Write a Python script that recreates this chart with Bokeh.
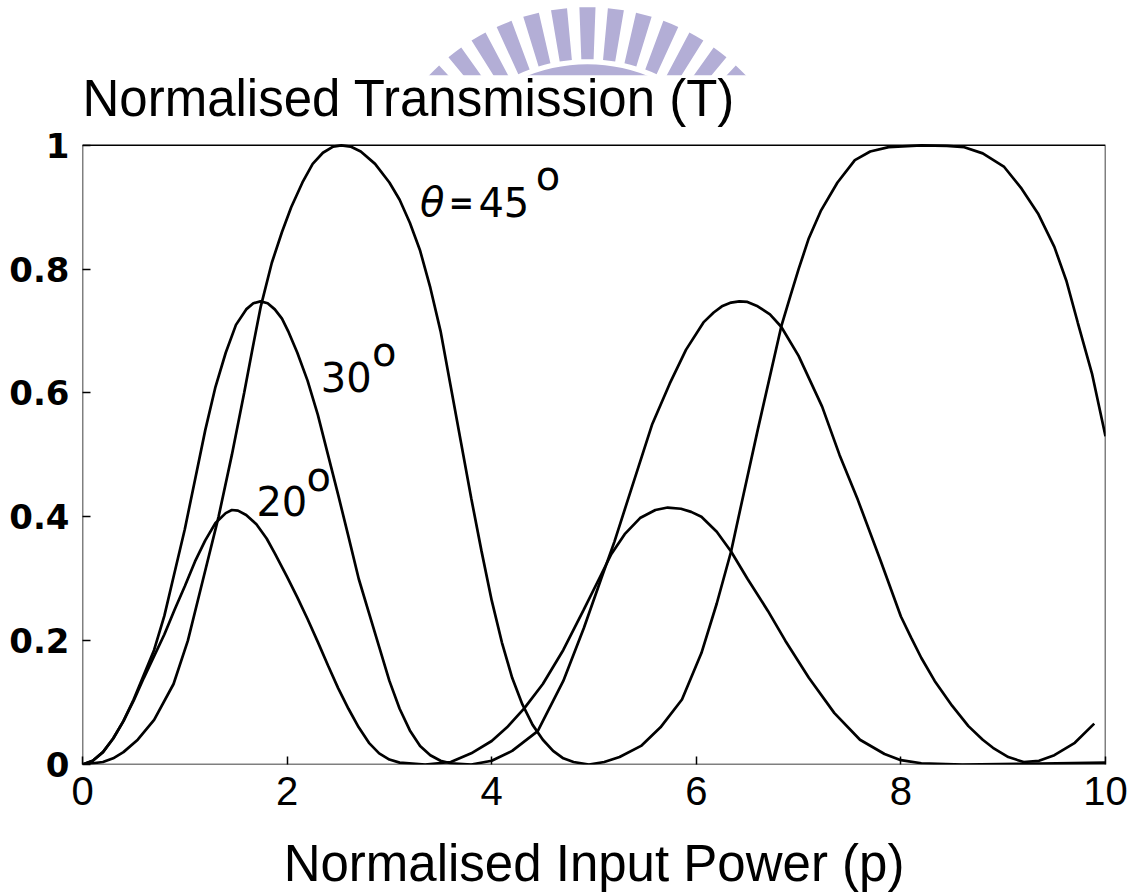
import numpy as np
from bokeh.plotting import figure
from bokeh.models import Range1d, Label, FixedTicker, ColumnDataSource
from bokeh.embed import file_html
from bokeh.resources import INLINE

# ---------------- data ----------------
p20 = [0.0, 0.1, 0.2, 0.3, 0.4, 0.5, 0.6, 0.7, 0.8, 0.9, 1.0, 1.1, 1.2, 1.3, 1.4, 1.46,
       1.52, 1.6, 1.7, 1.8, 1.88, 2.0, 2.1, 2.2, 2.3, 2.4, 2.5, 2.6, 2.7, 2.8, 2.9, 3.0,
       3.1, 3.35, 3.6, 3.8, 4.0, 4.15, 4.32, 4.5, 4.7, 4.9, 5.05, 5.17, 5.3, 5.45, 5.6,
       5.72, 5.85, 5.95, 6.05, 6.2, 6.34, 6.5, 6.7, 6.87, 7.1, 7.35, 7.6, 7.84, 8.0, 8.2,
       8.6, 9.2, 10.0]
t20 = [0.0, 0.006, 0.02, 0.042, 0.07, 0.103, 0.14, 0.175, 0.21, 0.25, 0.288, 0.328, 0.362,
       0.39, 0.406, 0.411, 0.41, 0.403, 0.388, 0.365, 0.341, 0.303, 0.27, 0.235, 0.198,
       0.16, 0.123, 0.09, 0.06, 0.035, 0.018, 0.008, 0.003, 0.0, 0.004, 0.018, 0.038, 0.06,
       0.091, 0.13, 0.185, 0.25, 0.3, 0.34, 0.372, 0.398, 0.411, 0.415, 0.413, 0.408, 0.40,
       0.376, 0.344, 0.3, 0.248, 0.2, 0.14, 0.083, 0.04, 0.017, 0.007, 0.002, 0.0, 0.001,
       0.003]

p30 = [0.0, 0.1, 0.2, 0.3, 0.4, 0.5, 0.6, 0.7, 0.8, 0.9, 1.0, 1.1, 1.2, 1.3, 1.4, 1.5, 1.6,
       1.67, 1.74, 1.81, 1.88, 1.95, 2.01, 2.1, 2.2, 2.3, 2.4, 2.5, 2.6, 2.7, 2.8, 2.9, 3.0,
       3.1, 3.2, 3.3, 3.4, 3.5, 3.6, 3.8, 4.0, 4.2, 4.45, 4.7, 4.9, 5.07, 5.2, 5.4, 5.57,
       5.74, 5.9, 6.07, 6.17, 6.25, 6.34, 6.42, 6.5, 6.6, 6.72, 6.83, 7.0, 7.23, 7.4, 7.58,
       7.8, 8.0, 8.1, 8.2, 8.33, 8.5, 8.66, 8.8, 8.9, 9.05, 9.2, 9.35, 9.5, 9.7, 9.89]
t30 = [0.0, 0.006, 0.02, 0.042, 0.07, 0.105, 0.145, 0.185, 0.24, 0.31, 0.38, 0.46, 0.54,
       0.61, 0.665, 0.71, 0.735, 0.745, 0.748, 0.745, 0.735, 0.72, 0.70, 0.665, 0.62,
       0.565, 0.5, 0.435, 0.368, 0.3, 0.245, 0.19, 0.135, 0.09, 0.055, 0.03, 0.015, 0.006,
       0.002, 0.0, 0.006, 0.022, 0.054, 0.135, 0.22, 0.3, 0.36, 0.463, 0.55, 0.615, 0.67,
       0.714, 0.73, 0.74, 0.746, 0.748, 0.747, 0.74, 0.727, 0.707, 0.66, 0.578, 0.5, 0.427,
       0.33, 0.239, 0.205, 0.172, 0.135, 0.095, 0.062, 0.04, 0.027, 0.012, 0.004, 0.006,
       0.015, 0.035, 0.066]

p45 = [0.0, 0.2, 0.3, 0.4, 0.54, 0.7, 0.89, 1.03, 1.18, 1.33, 1.46, 1.58, 1.66, 1.743,
       1.85, 1.95, 2.04, 2.15, 2.25, 2.35, 2.45, 2.53, 2.62, 2.72, 2.86, 3.0, 3.1, 3.2,
       3.3, 3.4, 3.5, 3.6, 3.7, 3.8, 3.9, 4.0, 4.1, 4.2, 4.3, 4.4, 4.5, 4.6, 4.7, 4.8,
       4.95, 5.1, 5.25, 5.46, 5.65, 5.86, 6.05, 6.2, 6.34, 6.44, 6.6, 6.83, 6.92, 7.0, 7.1,
       7.22, 7.38, 7.55, 7.7, 7.88, 8.2, 8.45, 8.62, 8.8, 9.01, 9.18, 9.34, 9.5, 9.62, 9.73,
       9.87, 10.0]
t45 = [0.0, 0.004, 0.01, 0.02, 0.04, 0.072, 0.13, 0.2, 0.3, 0.4, 0.5, 0.6, 0.67, 0.74,
       0.81, 0.86, 0.9, 0.94, 0.97, 0.988, 0.998, 1.0, 0.998, 0.99, 0.97, 0.94, 0.912,
       0.875, 0.83, 0.77, 0.7, 0.61, 0.52, 0.43, 0.345, 0.265, 0.197, 0.14, 0.097, 0.064,
       0.04, 0.022, 0.01, 0.004, 0.0, 0.004, 0.012, 0.03, 0.06, 0.105, 0.18, 0.26, 0.344,
       0.42, 0.54, 0.707, 0.757, 0.8, 0.85, 0.895, 0.94, 0.976, 0.99, 0.997, 1.0, 0.999,
       0.997, 0.987, 0.965, 0.93, 0.89, 0.836, 0.78, 0.713, 0.63, 0.53]

x_ticks = [0, 2, 4, 6, 8, 10]
x_tick_labels = ["0", "2", "4", "6", "8", "10"]
y_ticks = [0, 0.2, 0.4, 0.6, 0.8, 1]
y_tick_labels = ["0", "0.2", "0.4", "0.6", "0.8", "1"]

title_text = "Normalised Transmission (T)"
x_label_text = "Normalised Input Power (p)"

# ---------------- figure ----------------
x0, x1 = x_ticks[0], x_ticks[-1]
y0, y1 = y_ticks[0], y_ticks[-1]
head = 145 / 620.0          # headroom above the data box (title + watermark)

p = figure(width=1134, height=894, x_range=Range1d(x0, x1), y_range=Range1d(y0, y1 + head),
           output_backend="svg", toolbar_location=None,
           min_border_left=82, min_border_right=29, min_border_top=0, min_border_bottom=129)
p.grid.visible = False
p.outline_line_color = None

# decorative watermark (top centre)
wm_col = "#b3aed6"
ang = np.deg2rad(np.arange(45, 136, 7.5))
p.annular_wedge(x=4.936, y=0.871, inner_radius=1.623, outer_radius=2.131,
                start_angle=ang - 0.037, end_angle=ang + 0.037,
                fill_color=wm_col, line_color=None)
p.annular_wedge(x=4.936, y=0.871, inner_radius=1.447, outer_radius=1.574,
                start_angle=np.deg2rad(40), end_angle=np.deg2rad(140),
                fill_color=wm_col, line_color=None)
p.quad(left=x0 - 1, right=x1 + 1, bottom=y1 + 0.003, top=1.113,
       fill_color="white", line_color=None)

# data box
p.quad(left=x0, right=x1, bottom=y0, top=y1, fill_color=None,
       line_color="black", line_width=1.5)

for ax in (p.xaxis[0], p.yaxis[0]):
    ax.axis_line_color = None
    ax.major_tick_line_color = "black"
    ax.major_tick_line_width = 1.5
    ax.major_tick_in = 8
    ax.major_tick_out = 0
    ax.minor_tick_line_color = None
    ax.major_label_text_color = "black"

p.xaxis.ticker = FixedTicker(ticks=x_ticks)
p.xaxis.major_label_overrides = dict(zip(x_ticks, x_tick_labels))
p.xaxis.major_label_text_font = "Liberation Sans"
p.xaxis.major_label_text_font_size = "40px"
p.xaxis.major_label_standoff = 12
p.xaxis.axis_label = x_label_text
p.xaxis.axis_label_text_font = "Liberation Sans"
p.xaxis.axis_label_text_font_size = "51px"
p.xaxis.axis_label_text_font_style = "normal"
p.xaxis.axis_label_text_color = "black"
p.xaxis.axis_label_standoff = 27

p.yaxis.ticker = FixedTicker(ticks=y_ticks)
p.yaxis.major_label_overrides = dict(zip(y_ticks, y_tick_labels))
p.yaxis.major_label_text_font = "DejaVu Sans"
p.yaxis.major_label_text_font_style = "bold"
p.yaxis.major_label_text_font_size = "34px"
p.yaxis.major_label_standoff = 13

for xs, ys in ((p20, t20), (p30, t30), (p45, t45)):
    src = ColumnDataSource(dict(x=xs, y=ys))
    p.line("x", "y", source=src, line_color="black", line_width=2.7)

# title (y-quantity name) above the box
p.add_layout(Label(x=x0, y=1.0758, text=title_text, text_font="Liberation Sans",
                   text_font_size="51px", text_color="black",
                   text_baseline="alphabetic", text_align="left"))

ann_font = "DejaVu Sans"
def lab(x, y, text, size="40px", style="normal"):
    p.add_layout(Label(x=x, y=y, text=text, text_font=ann_font, text_font_size=size,
                       text_font_style=style, text_color="black",
                       text_baseline="alphabetic", text_align="left"))

dy = 0.026
lab(3.30, 0.882 + dy, "θ", style="italic")
lab(3.58, 0.882 + dy, "=", size="30px", style="bold")
lab(3.87, 0.882 + dy, "45")
lab(4.43, 0.924 + dy, "o")
lab(2.33, 0.600 + dy, "30")
lab(2.83, 0.640 + dy, "o")
lab(1.70, 0.400 + dy, "20")
lab(2.19, 0.439 + dy, "o")

open("out.html", "w").write(file_html(p, INLINE))
